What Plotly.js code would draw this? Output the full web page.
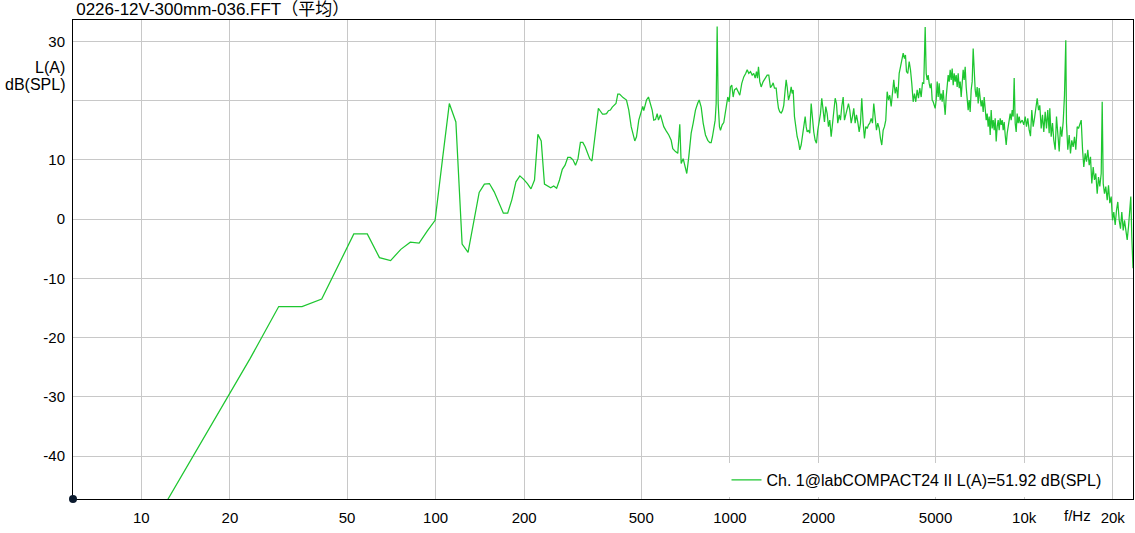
<!DOCTYPE html>
<html>
<head>
<meta charset="utf-8">
<script src="https://cdn.plot.ly/plotly-3.0.1.min.js"></script>
<style>
  html, body { margin: 0; padding: 0; background: #ffffff; }
  #chart { width: 1135px; height: 533px; }
</style>
</head>
<body>
<div id="chart"></div>
<script>
// ---- Data ----
const chartTitle = "0226-12V-300mm-036.FFT（平均）";
const seriesName = "Ch. 1@labCOMPACT24 II L(A)=51.92 dB(SPL)";

const xTickValues = [10, 20, 50, 100, 200, 500, 1000, 2000, 5000, 10000, 20000];
const xTickLabels = ["10", "20", "50", "100", "200", "500", "1000", "2000", "5000", "10k", "20k"];
const yTickValues = [-40, -30, -20, -10, 0, 10, 20, 30];
const yTickLabels = ["-40", "-30", "-20", "-10", "0", "10", "", "30"];
const yUnitLines = ["L(A)", "dB(SPL)"];
const xUnitLabel = "f/Hz";

// Frequency (Hz)
const freqHz = [
  11.72, 17.58, 23.44, 29.3, 35.16, 41.02, 46.88, 52.73, 58.59, 64.45, 70.31, 76.17, 82.03, 87.89, 93.75, 99.61,
  105.47, 111.33, 117.19, 123.05, 128.91, 134.77, 140.63, 146.48, 152.34, 158.2, 164.06, 169.92, 175.78, 181.64,
  187.5, 193.36, 199.22, 205.08, 210.94, 216.8, 222.66, 228.52, 234.38, 240.23, 246.09, 251.95, 257.81, 263.67,
  269.53, 275.39, 281.25, 287.11, 292.97, 298.83, 304.69, 310.55, 316.41, 322.27, 328.13, 333.98, 339.84, 345.7,
  351.56, 357.42, 363.28, 369.14, 375, 380.86, 386.72, 392.58, 398.44, 404.3, 410.16, 416.02, 421.88, 427.73, 433.59,
  445.3, 453.4, 462.0, 469.3, 475.2, 481.6, 490.3, 499.5, 505.8, 509.8, 520.7, 528.9, 537.3, 544.5, 551.3, 558.7,
  566.2, 572.0, 581.0, 588.8, 596.2, 607.5, 620.0, 631.7, 639.7, 653.4, 665.2, 675.7, 683.1, 693.9, 701.0, 713.7,
  725.0, 738.7, 750.4, 764.0, 777.9, 786.5, 798.9, 811.5, 826.2, 841.2, 854.5, 863.8, 872.6, 881.6, 891.3, 898.3,
  905.3, 912.5, 921.8, 929.1, 941.5, 953.4, 963.9, 973.8, 983.7, 994.6, 1004.7, 1015.0, 1026.1, 1036.6, 1053.0,
  1067.1, 1080.5, 1097.6, 1114.9, 1132.5, 1145.0, 1159.4, 1174.9, 1190.6, 1205.6, 1218.9, 1231.4, 1241.0, 1250.8,
  1263.6, 1277.5, 1297.6, 1318.1, 1338.9, 1355.8, 1373.9, 1392.3, 1403.2, 1417.6, 1436.6, 1447.8, 1462.7, 1477.6,
  1493.9, 1509.1, 1524.5, 1541.3, 1553.4, 1565.7, 1581.7, 1597.8, 1615.4, 1628.1, 1640.9, 1657.7, 1674.6, 1693.1,
  1710.4, 1727.9, 1746.9, 1764.8, 1782.8, 1802.4, 1816.6, 1830.9, 1849.6, 1868.5, 1889.1, 1908.4, 1927.9, 1949.1,
  1969.1, 1989.2, 2011.3, 2031.7, 2052.5, 2075.1, 2096.3, 2117.7, 2141.0, 2162.9, 2185.1, 2209.2, 2231.7, 2254.5,
  2279.4, 2302.7, 2326.2, 2352.0, 2375.9, 2400.2, 2426.6, 2451.4, 2476.4, 2503.8, 2529.4, 2555.3, 2583.4, 2609.8,
  2636.5, 2665.5, 2692.8, 2720.3, 2750.4, 2778.4, 2806.8, 2837.7, 2866.7, 2896.0, 2927.9, 2957.9, 2988.1, 3021.1,
  3052.0, 3083.1, 3117.1, 3149.0, 3181.2, 3216.4, 3249.1, 3282.3, 3318.4, 3352.4, 3386.6, 3424.0, 3459.0, 3494.4,
  3532.8, 3568.9, 3605.3, 3645.0, 3682.4, 3720.0, 3761.2, 3799.6, 3838.4, 3880.7, 3920.4, 3951.1, 3982.2, 4022.9,
  4067.5, 4108.8, 4150.8, 4196.5, 4239.4, 4282.7, 4329.9, 4374.2, 4419.0, 4467.7, 4513.4, 4559.4, 4609.7, 4645.9,
  4682.4, 4719.2, 4756.5, 4793.7, 4831.3, 4869.2, 4907.4, 4946.0, 4984.8, 5024.0, 5063.5, 5103.3, 5143.6, 5183.9,
  5224.6, 5265.7, 5307.0, 5348.7, 5390.6, 5433.0, 5475.8, 5518.8, 5562.4, 5605.9, 5649.8, 5694.2, 5738.9, 5784.0,
  5829.4, 5875.2, 5921.4, 5967.9, 6015.1, 6062.2, 6109.4, 6157.4, 6205.7, 6254.4, 6303.5, 6353.1, 6403.0, 6453.3,
  6504.4, 6555.2, 6607.1, 6659.0, 6711.2, 6763.9, 6817.0, 6870.7, 6924.7, 6979.1, 7034.2, 7089.3, 7145.0, 7201.1,
  7257.6, 7314.6, 7372.0, 7430.0, 7488.4, 7547.3, 7607.0, 7666.5, 7726.2, 7786.9, 7848.0, 7909.6, 7971.7, 8034.4,
  8097.6, 8161.2, 8225.7, 8290.0, 8355.6, 8421.3, 8487.3, 8554.0, 8621.1, 8688.9, 8757.2, 8826.1, 8895.9, 8965.4,
  9035.3, 9106.3, 9177.8, 9249.8, 9322.4, 9395.7, 9469.6, 9544.0, 9619.5, 9694.7, 9848.1, 9972.0, 10081.8, 10185.1,
  10289.2, 10403.1, 10509, 10616.4, 10733.3, 10843.0, 10953.7, 11074.6, 11187.9, 11302.3, 11426.4, 11543.2, 11661.1,
  11789.5, 11910.2, 12032.0, 12165, 12222, 12356.5, 12482.8, 12610.2, 12749.1, 12879.6, 13011.3, 13155.4, 13289,
  13424.8, 13572.6, 13711.3, 13851.4, 13927.7, 14070.1, 14225.9, 14371, 14517.9, 14677.7, 14827.7, 14979.2, 15144.5,
  15299.4, 15455.9, 15626.3, 15786.1, 15947.2, 16122.9, 16287.9, 16454.5, 16636.6, 16806, 16977.8, 17164.6, 17340.1,
  17517.2, 17710.5, 17891.7, 18074.7, 18273.8, 18417.3, 18561.8, 18751.6, 18943.1, 19152.1, 19348.0, 19545.9,
  19760.9, 19962.9, 20166.7, 20388.8, 20597.5, 20808.2, 21038.5, 21253, 21470.2, 21706.5, 21928.4, 22152.4, 22396.8,
  22626.0, 22857.4, 23037.0, 23217.9, 23345.4, 23437
];

// Level, L(A) dB(SPL)
const levelDb = [
  -49.1, -34.1, -23.5, -14.75, -14.75, -13.5, -7.8, -2.5, -2.5, -6.5, -7.0, -5.1, -3.9, -4.05, -2.0, -0.2,
  10.0, 19.5, 16.4, -4.2, -5.6, -0.5, 4.5, 5.9, 6.0, 4.6, 2.65, 1.0, 1.0, 3.3,
  6.3, 7.3, 6.7, 6.0, 5.1, 6.6, 14.3, 13.2, 5.9, 5.6, 5.3, 5.6, 5.2, 6.6,
  8.4, 9.1, 10.4, 10.4, 10.0, 9.1, 10.2, 12.95, 12.95, 12.2, 11.3, 10.2, 9.8, 12.8,
  15.6, 18.7, 18.2, 17.7, 17.7, 17.8, 18.3, 18.4, 18.9, 19.3, 19.5, 21.1, 21.1, 20.8, 20.5,
  20.1, 18.4, 15.6, 14.2, 13.2, 13.9, 16.7, 18.1, 19.0, 18.3, 20.1, 20.6, 19.5, 18.4, 16.7, 16.8,
  17.8, 16.7, 17.6, 16.7, 15.6, 14.9, 14.2, 13.3, 11.9, 11.4, 11.1, 16.0, 9.4, 10.2, 9.4, 7.7,
  10.5, 14.5, 16.2, 18.4, 19.6, 20.1, 18.9, 16.2, 14.2, 13.3, 12.9, 12.9, 13.9, 15.6, 16.7, 19.5,
  32.5, 19.5, 15.6, 15.0, 15.9, 16.3, 17.8, 19.8, 20.6, 19.8, 22.3, 22.6, 20.6, 21.8, 22.1,
  21.5, 20.9, 22.9, 24.0, 24.6, 25.2, 24.6, 24.9, 24.3, 24.6, 23.8, 24.9, 23.8, 25.7,
  23.2, 22.3, 23.2, 23.8, 24.3, 24.3, 22.2, 22.6, 23.0, 22.1, 22.1, 20.4, 18.7, 18.1,
  17.9, 18.3, 19.2, 21.8, 23.5, 22.3, 20.1, 20.9, 22.3, 21.2, 21.8, 17.3, 15.3, 13.9,
  13.1, 11.7, 12.5, 13.9, 15.0, 17.3, 15.6, 14.7, 15.0, 14.5, 19.5, 16.7, 14.7, 13.3,
  12.8, 15.0, 16.7, 17.8, 20.4, 17.8, 16.4, 19.0, 17.8, 15.6, 16.7, 13.9, 16.2, 18.1,
  20.4, 19.5, 16.2, 17.6, 16.7, 19.0, 20.6, 16.7, 17.8, 19.0, 19.5, 18.4, 16.2, 17.3,
  18.7, 16.2, 17.6, 16.4, 14.7, 16.2, 20.4, 16.2, 13.6, 15.6, 15.3, 15.9, 16.2, 17.0,
  16.2, 19.5, 16.7, 15.0, 16.2, 15.3, 13.6, 12.5, 15.0, 15.6, 16.7, 21.5, 20.1, 20.9,
  19.0, 22.1, 23.5, 21.2, 22.3, 20.4, 24.6, 25.7, 26.8, 28.0, 27.1, 27.7, 24.9, 24.6,
  26.6, 25.2, 22.9, 19.8, 21.2, 19.8, 21.8, 20.4, 22.1, 20.6, 23.0, 22.9, 32.4, 24.6,
  23.5, 24.3, 22.9, 22.1, 22.9, 20.1, 19.8, 19.2, 18.7, 20.1, 23.2, 20.6, 22.9, 20.1,
  21.2, 19.8, 21.8, 19.5, 17.6, 20.6, 23.5, 24.3, 23.2, 25.2, 23.5, 25.4, 22.6, 24.6,
  23.2, 24.3, 22.3, 24.6, 22.1, 23.2, 20.6, 23.5, 25.2, 23.5, 25.7, 22.3, 19.8, 18.4,
  20.1, 18.1, 21.8, 23.2, 28.8, 23.2, 21.8, 20.6, 22.3, 19.5, 22.1, 20.4, 19.0, 20.1,
  18.1, 20.6, 17.6, 16.7, 17.8, 15.6, 17.3, 14.2, 18.4, 15.3, 16.7, 15.0, 17.0, 13.1,
  15.6, 16.7, 15.0, 17.0, 15.9, 16.7, 15.0, 16.4, 14.2, 12.5, 14.5, 16.2, 16.7, 17.8,
  16.7, 18.4, 17.3, 23.8, 16.2, 14.7, 17.8, 16.2, 17.3, 16.2, 16.7, 15.9, 17.3, 15.6,
  17.0, 15.0, 14.0, 18.4, 15.6, 17.0, 19.2, 20.4, 18.4, 19.2, 15.3, 17.6, 14.7,
  18.1, 15.3, 18.4, 14.5, 18.7, 13.9, 16.2, 13.3, 11.7, 17.3, 13.9, 11.4, 15.6,
  13.9, 16.4, 20.9, 30.2, 16.2, 11.7, 14.2, 11.1, 13.3, 12.2, 13.9, 11.7, 15.6,
  15.3, 16.2, 16.7, 11.9, 8.8, 11.1, 9.7, 11.7, 9.1, 10.5, 6.0, 8.8, 6.6,
  7.7, 4.3, 7.1, 5.5, 7.7, 19.8, 6.0, 4.3, 5.5, 3.2, 5.7, 2.7,
  3.8, -0.2, 1.2, -1.0, 1.5, 2.9, -0.2, -1.6, 1.2, -1.9, -0.2, -2.4, -3.5,
  -1.3, 1.8, 3.8, -3.0, -5.2, -8.3
];

// ---- Chart ----
const FONT = "Liberation Sans, Arial, Noto Sans CJK SC, sans-serif";
const GRID = "#c8c8c8";
const LINE_COLOR = "#1ec630";

const trace = {
  type: "scatter",
  mode: "lines",
  x: freqHz,
  y: levelDb,
  name: seriesName,
  line: { color: LINE_COLOR, width: 1.25 },
  hoverinfo: "x+y"
};

const unitFont = { family: FONT, size: 16, color: "#000000" };

const layout = {
  width: 1135,
  height: 533,
  margin: { l: 73, r: 2, t: 20, b: 34, pad: 0 },
  paper_bgcolor: "#ffffff",
  plot_bgcolor: "#ffffff",
  font: { family: FONT, size: 15, color: "#000000" },
  title: {
    text: chartTitle,
    font: { family: FONT, size: 17, color: "#000000" },
    xref: "paper", x: 0.003, xanchor: "left",
    yref: "container", y: 1 - 9 / 533, yanchor: "middle"
  },
  showlegend: true,
  legend: {
    x: 0.975, xanchor: "right",
    y: 0.004, yanchor: "bottom",
    bgcolor: "#ffffff",
    borderwidth: 0,
    font: { family: FONT, size: 16, color: "#000000" }
  },
  xaxis: {
    type: "log",
    range: [0.7678, 4.3699],
    tickvals: xTickValues,
    ticktext: xTickLabels,
    tickfont: { family: FONT, size: 15, color: "#000000" },
    ticks: "",
    showgrid: true, gridcolor: GRID, gridwidth: 1,
    showline: true, linecolor: "#000000", linewidth: 1, mirror: true,
    zeroline: false,
    ticklabelstandoff: 5
  },
  yaxis: {
    range: [-47.23, 33.6],
    tickvals: yTickValues,
    ticktext: yTickLabels,
    tickfont: { family: FONT, size: 15, color: "#000000" },
    ticks: "",
    showgrid: true, gridcolor: GRID, gridwidth: 1,
    showline: true, linecolor: "#000000", linewidth: 1, mirror: true,
    zeroline: false,
    ticklabelstandoff: 4
  },
  annotations: [
    {
      text: yUnitLines[0],
      xref: "paper", yref: "paper",
      x: -0.0055, y: (499 - 67) / 479,
      xanchor: "right", yanchor: "middle", align: "right",
      showarrow: false, font: unitFont
    },
    {
      text: yUnitLines[1],
      xref: "paper", yref: "paper",
      x: -0.0055, y: (499 - 84) / 479,
      xanchor: "right", yanchor: "middle", align: "right",
      showarrow: false, font: unitFont
    },
    {
      text: xUnitLabel,
      xref: "paper", yref: "paper",
      x: (1077 - 73) / 1060, y: 0,
      xanchor: "center", yanchor: "top", yshift: -6,
      showarrow: false,
      font: { family: FONT, size: 15, color: "#000000" }
    }
  ],
  shapes: [
    {
      type: "circle", layer: "above",
      xref: "paper", yref: "paper",
      xsizemode: "pixel", ysizemode: "pixel",
      xanchor: 0, yanchor: 0,
      x0: -4, x1: 4, y0: -4, y1: 4,
      fillcolor: "#0b1a2e", line: { color: "#0b1a2e", width: 0 }
    }
  ]
};

Plotly.newPlot("chart", [trace], layout, { displayModeBar: false, staticPlot: true });
</script>
</body>
</html>
